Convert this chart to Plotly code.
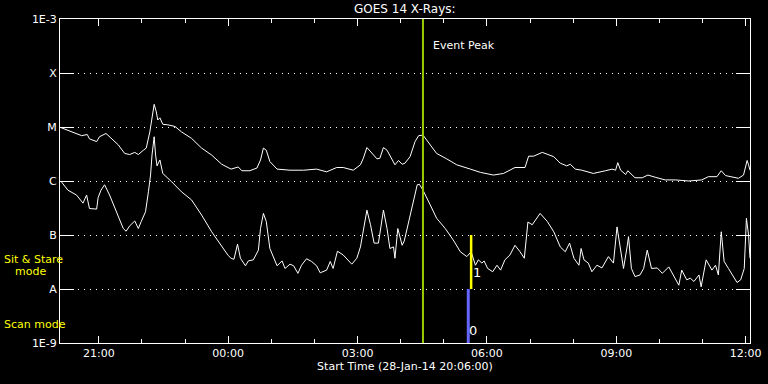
import pandas as pd
import numpy as np
import plotly.graph_objects as go

# ---- data ----
start_time = "2014-01-28 20:06:00"
end_time = "2014-01-29 12:06:00"

# long channel (1-8 A): minutes after start, log10 flux
long_min = [1, 16, 30, 38, 41, 51, 55, 64, 71, 81, 90, 97, 104, 109, 116, 120, 125, 128, 131, 134,
            136, 139, 143, 150, 160, 169, 183, 197, 211, 225, 238, 248, 253, 264, 274, 279, 283, 287,
            292, 302, 320, 339, 357, 371, 385, 394, 408, 418, 422, 427, 434, 441, 445, 450, 455, 462,
            466, 471, 476, 480, 487, 494, 499, 505, 510, 524, 538, 552, 571, 585, 603, 617, 633, 647,
            652, 659, 671, 678, 687, 696, 705, 710, 717, 726, 742, 759, 768, 773, 776, 780, 787, 790,
            800, 810, 818, 828, 842, 856, 875, 893, 902, 914, 920, 926, 935, 944, 951, 956, 958, 960]
long_log = [-5.01, -5.09, -5.16, -5.14, -5.22, -5.27, -5.18, -5.12, -5.20, -5.33, -5.49, -5.51, -5.47,
            -5.51, -5.43, -5.39, -5.09, -4.84, -4.58, -4.72, -4.87, -4.83, -4.95, -4.96, -4.99, -5.09,
            -5.21, -5.39, -5.52, -5.69, -5.78, -5.74, -5.81, -5.81, -5.76, -5.61, -5.39, -5.43, -5.64,
            -5.78, -5.80, -5.80, -5.78, -5.83, -5.75, -5.75, -5.80, -5.70, -5.58, -5.38, -5.49, -5.59,
            -5.58, -5.38, -5.43, -5.61, -5.70, -5.62, -5.69, -5.67, -5.55, -5.27, -5.16, -5.15, -5.24,
            -5.49, -5.59, -5.70, -5.78, -5.84, -5.89, -5.86, -5.75, -5.75, -5.54, -5.54, -5.47, -5.50,
            -5.55, -5.67, -5.72, -5.69, -5.78, -5.80, -5.86, -5.81, -5.78, -5.80, -5.66, -5.80, -5.88,
            -5.81, -5.94, -5.94, -5.89, -5.93, -5.98, -5.98, -6.00, -5.98, -5.92, -5.92, -5.81, -5.90,
            -5.92, -5.95, -5.89, -5.62, -5.70, -5.80]

# short channel (0.5-4 A): minutes after start, log10 flux
short_min = [1, 11, 23, 32, 37, 41, 51, 53, 57, 62, 69, 78, 88, 92, 97, 104, 109, 113, 119, 123, 126,
             128, 131, 133, 135, 139, 143, 155, 169, 183, 197, 211, 220, 227, 234, 238, 242, 247, 251,
             258, 262, 269, 276, 279, 283, 287, 292, 302, 309, 313, 320, 325, 331, 336, 343, 350, 357,
             362, 371, 376, 380, 386, 394, 406, 413, 418, 422, 427, 432, 437, 443, 446, 450, 455, 459,
             464, 466, 470, 476, 479, 483, 490, 497, 500, 505, 515, 524, 536, 547, 557, 566, 572, 578,
             582, 587, 590, 595, 602, 608, 613, 619, 626, 633, 640, 646, 651, 657, 668, 678, 687, 696,
             703, 709, 715, 722, 725, 729, 735, 740, 747, 754, 763, 770, 775, 780, 784, 789, 791, 795,
             800, 807, 812, 817, 823, 831, 838, 847, 854, 861, 865, 872, 877, 882, 889, 892, 899, 907,
             912, 916, 920, 924, 930, 935, 942, 947, 952, 955, 958, 960]
short_log = [-6.00, -6.17, -6.26, -6.41, -6.26, -6.51, -6.52, -6.31, -6.17, -6.07, -6.26, -6.57, -6.88,
             -6.93, -6.83, -6.74, -6.88, -6.75, -6.57, -6.20, -5.89, -5.52, -5.18, -5.52, -5.72, -5.61,
             -5.86, -6.01, -6.20, -6.35, -6.63, -6.94, -7.12, -7.26, -7.38, -7.43, -7.45, -7.17, -7.43,
             -7.57, -7.48, -7.46, -7.28, -6.88, -6.60, -6.75, -7.25, -7.57, -7.48, -7.62, -7.54, -7.57,
             -7.71, -7.56, -7.44, -7.49, -7.57, -7.70, -7.65, -7.49, -7.62, -7.30, -7.37, -7.54, -7.43,
             -7.22, -6.88, -6.54, -6.81, -7.15, -7.15, -6.88, -6.54, -6.88, -7.25, -7.22, -7.43, -6.88,
             -7.19, -7.11, -6.88, -6.44, -6.07, -6.06, -6.17, -6.44, -6.69, -6.88, -7.09, -7.31, -7.40,
             -7.31, -7.56, -7.46, -7.52, -7.48, -7.62, -7.68, -7.56, -7.65, -7.46, -7.37, -7.19, -7.31,
             -7.43, -6.76, -6.81, -6.60, -6.75, -6.94, -7.22, -7.31, -7.15, -7.43, -7.56, -7.25, -7.46,
             -7.52, -7.68, -7.56, -7.61, -7.40, -7.52, -6.85, -7.31, -7.62, -7.22, -7.03, -7.62, -7.77,
             -7.74, -7.62, -7.28, -7.62, -7.61, -7.71, -7.59, -7.77, -7.93, -7.65, -7.83, -7.80, -7.86,
             -7.74, -7.96, -7.46, -7.65, -7.56, -7.74, -6.94, -7.49, -7.62, -7.74, -7.88, -7.83, -7.62,
             -6.69, -7.00, -7.43]

event_peak_time = "2014-01-29 04:31:00"
sit_stare_time = "2014-01-29 05:38:00"
scan_time = "2014-01-29 05:34:00"
sit_stare_range = [1e-7, 1e-8]
scan_range = [1e-8, 1e-9]

y_tickvals = [1e-9, 1e-8, 1e-7, 1e-6, 1e-5, 1e-4, 1e-3]
y_ticktext = ["1E-9", "A", "B", "C", "M", "X", "1E-3"]

# ---- build ----
t0 = pd.Timestamp(start_time)
long_t = [t0 + pd.Timedelta(minutes=m) for m in long_min]
short_t = [t0 + pd.Timedelta(minutes=m) for m in short_min]
long_f = [10 ** v for v in long_log]
short_f = [10 ** v for v in short_log]

FONT = "DejaVu Sans"
fig = go.Figure()
fig.add_trace(go.Scatter(x=long_t, y=long_f, mode="lines", line=dict(color="white", width=1),
                         showlegend=False, hoverinfo="skip"))
fig.add_trace(go.Scatter(x=short_t, y=short_f, mode="lines", line=dict(color="white", width=1),
                         showlegend=False, hoverinfo="skip"))
fig.add_trace(go.Scatter(x=[event_peak_time, event_peak_time], y=[1e-9, 1e-3], mode="lines",
                         line=dict(color="#99cc00", width=2), showlegend=False, hoverinfo="skip"))
fig.add_trace(go.Scatter(x=[sit_stare_time, sit_stare_time], y=sit_stare_range, mode="lines",
                         line=dict(color="#ffff00", width=2.5), showlegend=False, hoverinfo="skip"))
fig.add_trace(go.Scatter(x=[scan_time, scan_time], y=scan_range, mode="lines",
                         line=dict(color="#6666ff", width=3), showlegend=False, hoverinfo="skip"))

annos = [
    dict(x=event_peak_time, y=np.log10(3.2e-4), text="Event Peak", xref="x", yref="y",
         xanchor="left", xshift=8, showarrow=False, font=dict(color="white", size=11, family=FONT)),
    dict(x=sit_stare_time, y=np.log10(2.0e-8), text="1", xref="x", yref="y",
         xanchor="left", xshift=0, showarrow=False, font=dict(color="white", size=13, family=FONT)),
    dict(x=scan_time, y=np.log10(1.7e-9), text="0", xref="x", yref="y",
         xanchor="left", xshift=-1, showarrow=False, font=dict(color="white", size=13, family=FONT)),
    dict(x=2, y=259, text="Sit & Stare"),
    dict(x=13, y=271, text="mode"),
    dict(x=2, y=324, text="Scan mode"),
    dict(x=0.5, y=1, xref="paper", yref="paper", yanchor="bottom", yshift=1,
         text="GOES 14 X-Rays:", showarrow=False, font=dict(color="white", size=12, family=FONT)),
]
# left side yellow labels placed in pixel space (converted to paper coords)
W, H = 768, 384
ml, mr, mt, mb = 60, 18, 19, 41
pw, ph = W - ml - mr, H - mt - mb
for a in annos[3:6]:
    px, py = a["x"], a["y"]
    a.update(x=(px - ml) / pw, y=1 - (py - mt) / ph, xref="paper", yref="paper",
             xanchor="left", yanchor="middle", showarrow=False,
             font=dict(color="#ffff00", size=11, family=FONT))
fig.update_layout(annotations=annos)

fig.update_layout(
    width=W, height=H,
    margin=dict(l=ml, r=mr, t=mt, b=mb, autoexpand=False),
    paper_bgcolor="black", plot_bgcolor="black",
    font=dict(family=FONT, color="white", size=11),
    showlegend=False,
    hovermode=False,
)
fig.update_xaxes(
    type="date", range=[start_time, end_time], automargin=False,
    showline=True, linecolor="white", linewidth=1, mirror="ticks",
    ticks="inside", ticklen=7, tickcolor="white", tickwidth=1,
    tick0="2014-01-28 21:00:00", dtick=3 * 3600000, tickformat="%H:%M",
    minor=dict(ticks="inside", ticklen=4, tickcolor="white", dtick=3600000,
               tick0="2014-01-28 21:00:00", showgrid=False),
    showgrid=False, zeroline=False,
    tickfont=dict(color="white", size=11, family=FONT),
    title=dict(text="Start Time (28-Jan-14 20:06:00)", standoff=2,
               font=dict(color="white", size=11, family=FONT)),
)
fig.update_yaxes(
    type="log", range=[-9, -3], automargin=False,
    tickvals=y_tickvals, ticktext=y_ticktext,
    showline=True, linecolor="white", linewidth=1, mirror="ticks",
    ticks="inside", ticklen=14, tickcolor="white", tickwidth=1,
    showgrid=True, gridcolor="white", gridwidth=1, griddash="1px,5px",
    zeroline=False,
    tickfont=dict(color="white", size=11, family=FONT),
)

fig.write_html(
    "out.html",
    config={"displayModeBar": False, "staticPlot": True},
    post_script="document.body.style.margin='0';document.body.style.overflow='hidden';"
                "document.body.style.background='black';",
)
